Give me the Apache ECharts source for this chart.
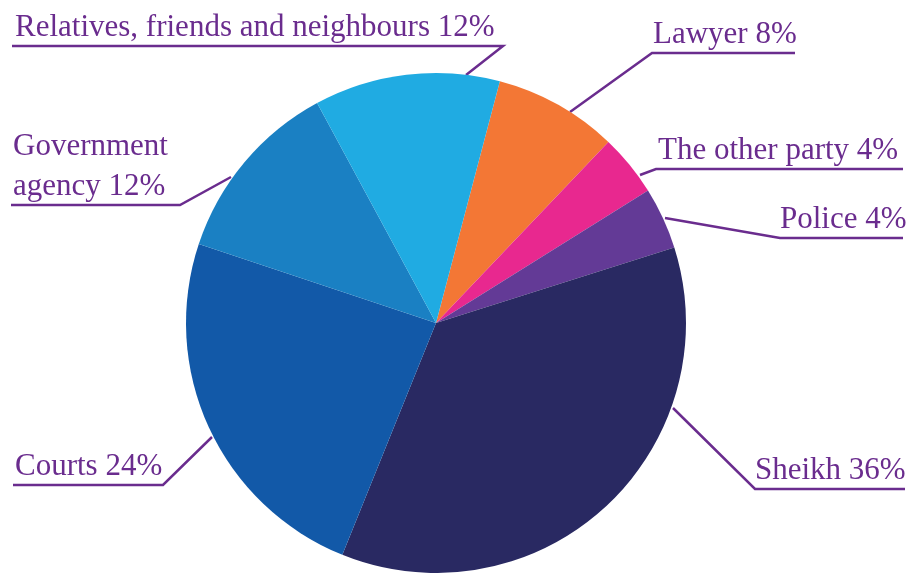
<!DOCTYPE html>
<html>
<head>
<meta charset="utf-8">
<script src="https://cdn.jsdelivr.net/npm/echarts@6/dist/echarts.min.js"></script>
<style>
  html, body { margin: 0; padding: 0; background: #fff; }
  #chart { width: 907px; height: 573px; }
</style>
</head>
<body>
<div id="chart"></div>
<script>
// data, clockwise from the Lawyer slice
const categories = ['Lawyer', 'The other party', 'Police', 'Sheikh', 'Courts', 'Government agency', 'Relatives, friends and neighbours']
const shares = [8, 4, 4, 36, 24, 12, 12]
const sliceColors = ['#f37735', '#e8288f', '#633a96', '#292962', '#1259a8', '#1a80c3', '#20abe2']

// label placement: text left x, underline y, leader line points
const labelSpots = [
  { x: 653, y: 53, pts: [[570, 112], [652, 53], [795, 53]] },
  { x: 658, y: 169, pts: [[640, 175], [656, 169], [903, 169]] },
  { x: 780, y: 238, pts: [[665, 218], [780, 238], [903, 238]] },
  { x: 755, y: 489, pts: [[673, 408], [755, 489], [905, 489]] },
  { x: 15, y: 485, pts: [[212, 437], [163, 485], [13, 485]] },
  { x: 13, y: 205, pts: [[231, 177], [180, 205], [11, 205]] },
  { x: 15, y: 46, pts: [[466, 75], [503, 46], [12, 46]] },
]

const purple = '#6a2c8e'

const chart = echarts.init(document.getElementById('chart'))
chart.setOption({
  animation: false,
  series: [{
    type: 'pie',
    center: [436, 323],
    radius: 250,
    startAngle: 75.2,
    clockwise: true,
    data: categories.map((name, i) => ({ name, value: shares[i], itemStyle: { color: sliceColors[i] } })),
    label: {
      show: true,
      color: purple,
      fontFamily: 'Liberation Serif',
      fontSize: 31,
      lineHeight: 40,
      overflow: 'none',
      formatter: p => (p.dataIndex === 5 ? 'Government\nagency' : p.name) + ' ' + p.value + '%',
    },
    labelLine: { show: true, lineStyle: { color: purple, width: 2.5 } },
    labelLayout: params => {
      const s = labelSpots[params.dataIndex]
      return {
        x: s.x,
        y: s.y + 2,
        align: 'left',
        verticalAlign: 'bottom',
        labelLinePoints: s.pts,
      }
    },
  }],
})
</script>
</body>
</html>
